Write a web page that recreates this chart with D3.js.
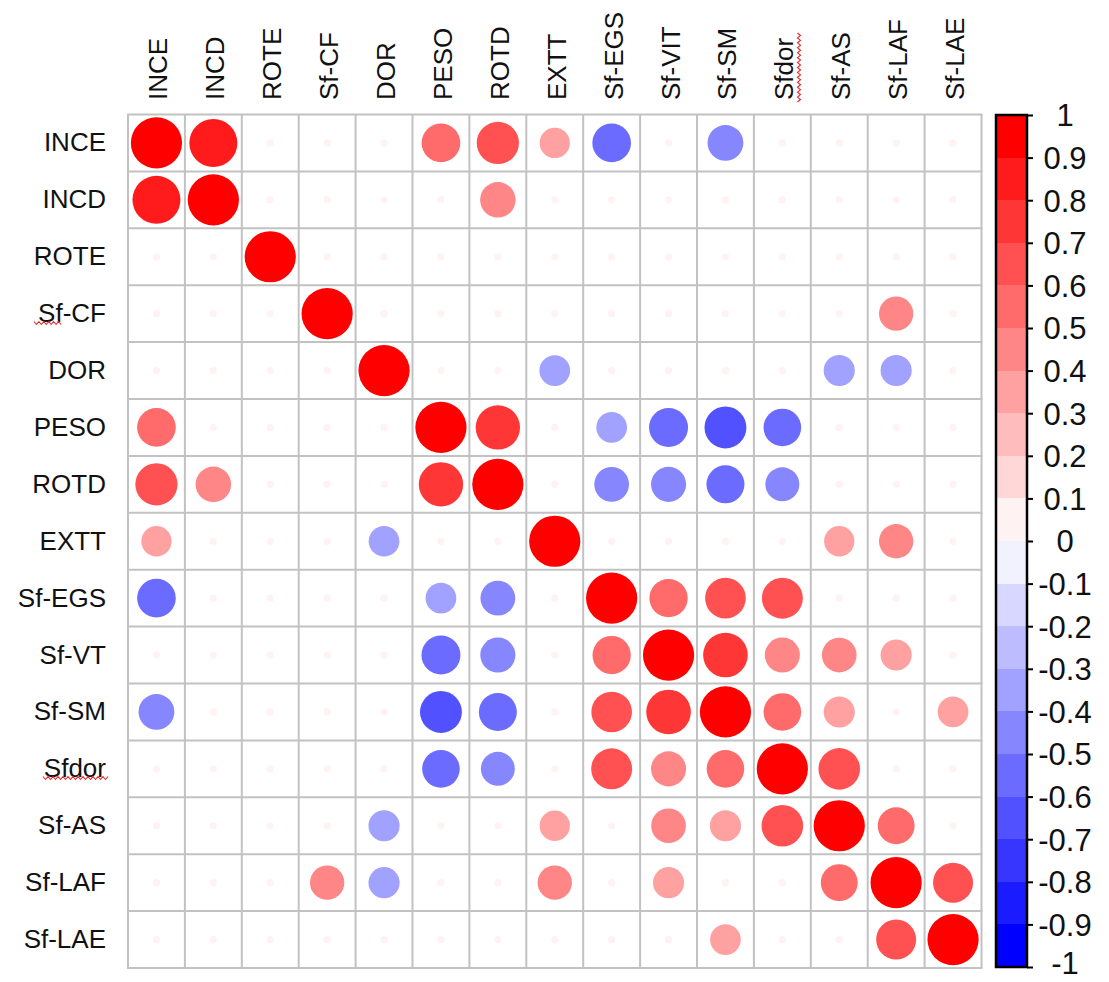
<!DOCTYPE html>
<html>
<head>
<meta charset="utf-8">
<script src="https://cdn.jsdelivr.net/npm/d3@7"></script>
<style>
  html, body { margin: 0; padding: 0; background: #fff; }
  svg { display: block; font-family: "Liberation Sans", Arial, Helvetica, sans-serif; }
</style>
</head>
<body>
<svg id="chart" width="1109" height="982"></svg>
<script>
// ---- data ----
const rowLabels = ["INCE","INCD","ROTE","Sf-CF","DOR","PESO","ROTD","EXTT","Sf-EGS","Sf-VT","Sf-SM","Sfdor","Sf-AS","Sf-LAF","Sf-LAE"];
const colLabels = ["INCE","INCD","ROTE","Sf-CF","DOR","PESO","ROTD","EXTT","Sf-EGS","Sf-VIT","Sf-SM","Sfdor","Sf-AS","Sf-LAF","Sf-LAE"];
const z = 0.02; // near-zero (non-significant) correlations drawn as tiny dots
const corr = [
  [1, 0.88, z, z, z, 0.57, 0.68, 0.35, -0.57, z, -0.49, z, z, z, z],
  [0.88, 1, z, z, z, z, 0.48, z, z, z, z, z, z, z, z],
  [z, z, 1, z, z, z, z, z, z, z, z, z, z, z, z],
  [z, z, z, 1, z, z, z, z, z, z, z, z, z, 0.45, z],
  [z, z, z, z, 1, z, z, -0.36, z, z, z, z, -0.37, -0.37, z],
  [0.57, z, z, z, z, 1, 0.75, z, -0.36, -0.58, -0.67, -0.54, z, z, z],
  [0.68, 0.48, z, z, z, 0.75, 1, z, -0.46, -0.47, -0.55, -0.44, z, z, z],
  [0.35, z, z, z, -0.36, z, z, 1, z, z, z, z, 0.35, 0.45, z],
  [-0.57, z, z, z, z, -0.36, -0.46, z, 1, 0.56, 0.63, 0.64, z, z, z],
  [z, z, z, z, z, -0.58, -0.47, z, 0.56, 1, 0.76, 0.47, 0.46, 0.37, z],
  [-0.49, z, z, z, z, -0.67, -0.55, z, 0.63, 0.76, 1, 0.54, 0.37, z, 0.36],
  [z, z, z, z, z, -0.54, -0.44, z, 0.64, 0.47, 0.54, 1, 0.66, z, z],
  [z, z, z, z, -0.37, z, z, 0.35, z, 0.46, 0.37, 0.66, 1, 0.52, z],
  [z, z, z, 0.45, -0.37, z, z, 0.45, z, 0.37, z, z, 0.52, 1, 0.61],
  [z, z, z, z, z, z, z, z, z, z, 0.36, z, z, 0.61, 1]
];
const legendTicks = [1, 0.9, 0.8, 0.7, 0.6, 0.5, 0.4, 0.3, 0.2, 0.1, 0, -0.1, -0.2, -0.3, -0.4, -0.5, -0.6, -0.7, -0.8, -0.9, -1];
const nBins = 20;

// ---- layout ----
const svg = d3.select("#chart");
const gx0 = 128, gx1 = 981.5, gy0 = 114.5, gy1 = 968;
const x = d3.scaleBand().domain(d3.range(colLabels.length)).range([gx0, gx1]).padding(0);
const y = d3.scaleBand().domain(d3.range(rowLabels.length)).range([gy0, gy1]).padding(0);
const cell = x.bandwidth();

// colour palette: blue - white - red ramp, 20 bins
const ramp = d3.scaleLinear().domain([0, 0.5, 1]).range(["#0000FF", "#FFFFFF", "#FF0000"]).interpolate(d3.interpolateRgb);
const palette = d3.range(nBins).map(i => ramp(i / (nBins - 1)));
const binScale = d3.scaleQuantize().domain([-1, 1]).range(palette);
const rScale = d3.scaleSqrt().domain([0, 1]).range([0, 0.45 * cell]);

// grid
const grid = svg.append("g");
grid.selectAll("line.v").data(d3.range(colLabels.length + 1)).join("line")
  .attr("x1", i => i < colLabels.length ? x(i) : gx1).attr("x2", i => i < colLabels.length ? x(i) : gx1)
  .attr("y1", gy0).attr("y2", gy1)
  .attr("stroke", "#C2C2C2").attr("stroke-width", 2);
grid.selectAll("line.h").data(d3.range(rowLabels.length + 1)).join("line")
  .attr("y1", i => i < rowLabels.length ? y(i) : gy1).attr("y2", i => i < rowLabels.length ? y(i) : gy1)
  .attr("x1", gx0 - 1).attr("x2", gx1 + 1)
  .attr("stroke", "#C2C2C2").attr("stroke-width", 2);

// circles
const cells = [];
corr.forEach((row, i) => row.forEach((v, j) => cells.push({i, j, v})));
svg.append("g").selectAll("circle").data(cells).join("circle")
  .attr("cx", d => x(d.j) + cell / 2)
  .attr("cy", d => y(d.i) + cell / 2)
  .attr("r", d => rScale(Math.abs(d.v)))
  .attr("fill", d => binScale(d.v));

// row labels
svg.append("g").selectAll("text").data(rowLabels).join("text")
  .attr("x", 106)
  .attr("y", (d, i) => y(i) + cell / 2 + 8.5)
  .attr("text-anchor", "end")
  .attr("font-size", 26)
  .attr("fill", "#111")
  .text(d => d);

// column labels (rotated)
svg.append("g").selectAll("text").data(colLabels).join("text")
  .attr("transform", (d, i) => `translate(${x(i) + cell / 2 + 11},100) rotate(-90)`)
  .attr("text-anchor", "start")
  .attr("font-size", 26)
  .attr("fill", "#111")
  .text(d => d);

// colour legend
const lx0 = 996, lx1 = 1027;
const ly = d3.scaleLinear().domain([-1, 1]).range([gy1 - 1, gy0 + 0.5]);
const binEdges = d3.range(nBins).map(i => -1 + i * 2 / nBins);
svg.append("g").selectAll("rect").data(binEdges).join("rect")
  .attr("x", lx0).attr("width", lx1 - lx0)
  .attr("y", d => ly(d + 2 / nBins)).attr("height", d => ly(d) - ly(d + 2 / nBins))
  .attr("fill", (d, i) => palette[i]).attr("shape-rendering", "crispEdges");
svg.append("rect").attr("x", lx0).attr("y", ly(1)).attr("width", lx1 - lx0).attr("height", ly(-1) - ly(1))
  .attr("fill", "none").attr("stroke", "#000").attr("stroke-width", 2.5);
const axis = d3.axisRight(ly).tickValues(legendTicks).tickSize(6).tickFormat(d => d3.format("")(d).replace("−", "-"));
const ag = svg.append("g").attr("transform", `translate(${lx1},0)`).call(axis);
ag.select(".domain").remove();
ag.selectAll(".tick line").attr("stroke", "#000").attr("stroke-width", 2);
ag.selectAll(".tick text")
  .attr("x", 38)
  .attr("dy", d => d === -1 ? "0.22em" : "0.35em")
  .attr("text-anchor", "middle")
  .attr("font-size", 31)
  .attr("font-family", "'Liberation Sans', Arial, Helvetica, sans-serif")
  .attr("fill", "#111");

// spell-check style wavy underlines (decoration seen in the original)
function wavy(xa, ya, xb, yb) {
  const len = Math.hypot(xb - xa, yb - ya), n = Math.round(len / 2.5);
  const ux = (xb - xa) / len, uy = (yb - ya) / len;
  const pts = d3.range(n + 1).map(k => {
    const t = k / n * len, off = (k % 2 ? 1.5 : -1.5);
    return [xa + ux * t - uy * off, ya + uy * t + ux * off];
  });
  return d3.line()(pts);
}
const wav = svg.append("g").attr("fill", "none").attr("stroke", "#E8282B").attr("stroke-width", 1.1);
wav.append("path").attr("d", wavy(34, 323, 61, 323));
wav.append("path").attr("d", wavy(43, 778, 108, 778));
wav.append("path").attr("d", wavy(799, 102, 799, 33));
</script>
</body>
</html>
